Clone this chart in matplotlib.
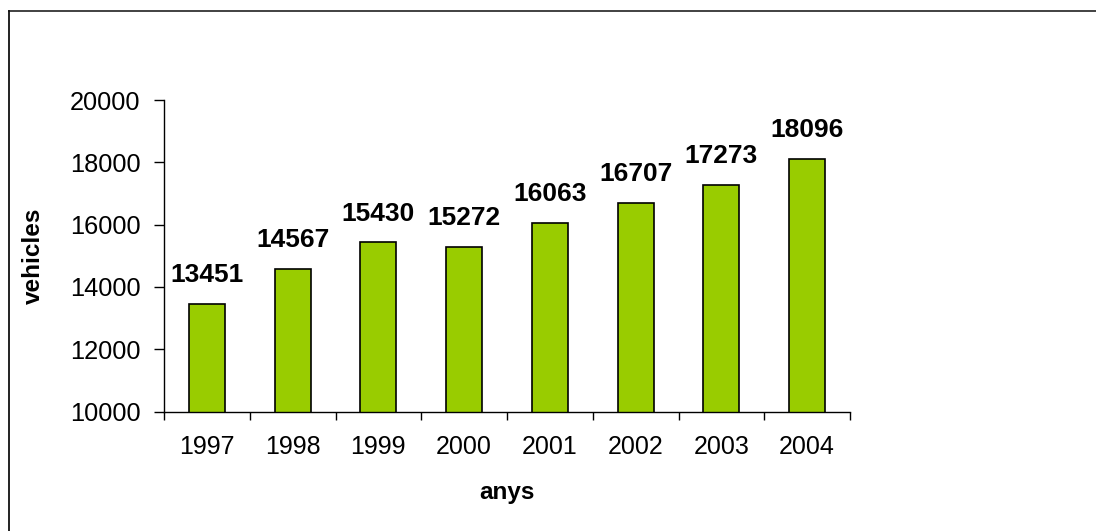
import matplotlib
matplotlib.use('Agg')
from matplotlib import pyplot as plt
from matplotlib.lines import Line2D

years = ['1997', '1998', '1999', '2000', '2001', '2002', '2003', '2004']
vehicles = [13451, 14567, 15430, 15272, 16063, 16707, 17273, 18096]

plt.rcParams['font.family'] = ['Liberation Sans', 'DejaVu Sans']

fig = plt.figure(figsize=(10.96, 5.31), dpi=100)
ax = fig.add_axes([164 / 1096, 1 - 411.5 / 531, (850 - 164) / 1096, (411.5 - 100) / 531])

xs = list(range(len(years)))
ax.bar(xs, vehicles, width=0.42, color='#99CC00', edgecolor='black', linewidth=1.2, bottom=0)

for x, v in zip(xs, vehicles):
    ax.text(x, v + 540, str(v), ha='center', va='bottom', fontsize=19, fontweight='bold')

ax.set_ylim(10000, 20000)
ax.set_xlim(-0.5, len(years) - 0.5)
ax.set_yticks(range(10000, 20001, 2000))
ax.set_xticks(xs)
ax.set_xticklabels(years)
ax.set_xticks([i - 0.5 for i in range(len(years) + 1)], minor=True)

ax.tick_params(axis='y', direction='out', length=7, width=1, labelsize=18.3, pad=10)
ax.tick_params(axis='x', which='major', length=0, labelsize=18, pad=17)
ax.tick_params(axis='x', which='minor', direction='out', length=6, width=1)

for side in ['top', 'right']:
    ax.spines[side].set_visible(False)
ax.spines['left'].set_linewidth(1)
ax.spines['bottom'].set_linewidth(1)

ax.set_xlabel('anys', fontsize=17.5, fontweight='bold', labelpad=16)
ax.set_ylabel('vehicles', fontsize=17.5, fontweight='bold', labelpad=18)

# outer frame
x0 = 8.5 / 1096
y0 = 1 - 10.5 / 531
fig.add_artist(Line2D([x0, 1.01], [y0, y0], transform=fig.transFigure, color='#333333', linewidth=1.3))
fig.add_artist(Line2D([x0, x0], [-0.01, y0], transform=fig.transFigure, color='#111111', linewidth=1.3))

fig.savefig('out.png', dpi=100)
